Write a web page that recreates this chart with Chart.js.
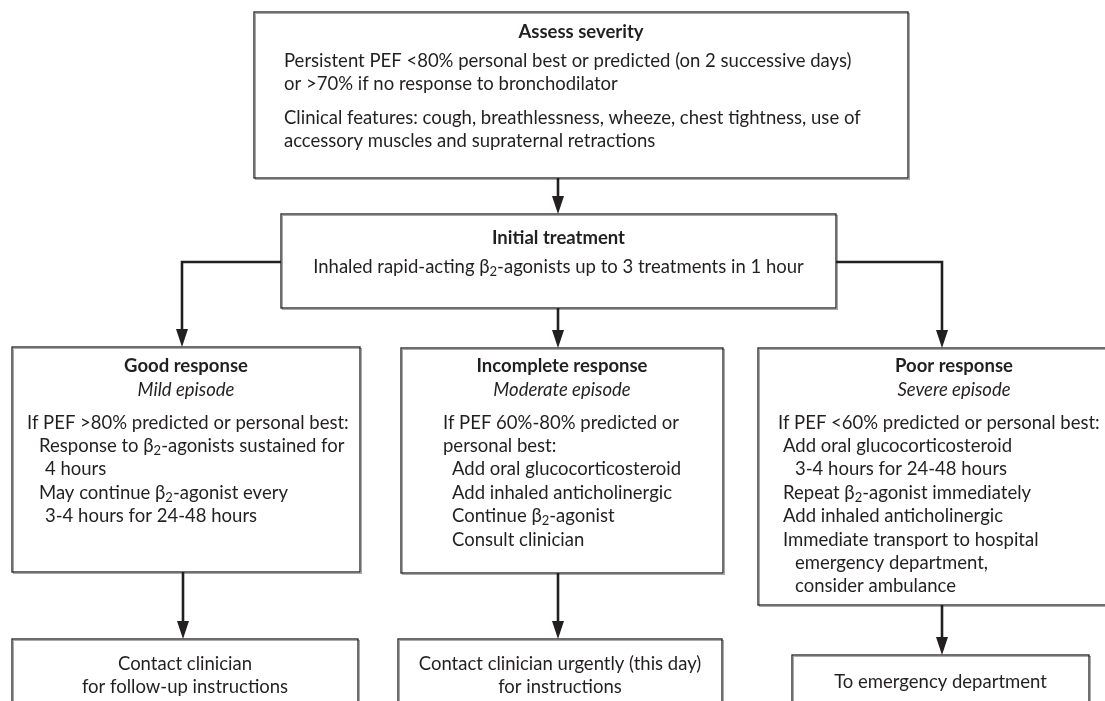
<!DOCTYPE html>
<html>
<head>
<meta charset="utf-8">
<script src="https://cdn.jsdelivr.net/npm/chart.js@4"></script>
<style>
  body { margin: 0; background: #fff; }
  #wrap { width: 1105px; height: 701px; }
</style>
</head>
<body>
<div id="wrap"><canvas id="flow" width="1105" height="701"></canvas></div>
<script>
// text of each step in the flow (β₂ is drawn with a real subscript)
let titles = ['Assess severity', 'Initial treatment', 'Good response', 'Incomplete response', 'Poor response',
    '', '', ''];
let subtitles = ['', '', 'Mild episode', 'Moderate episode', 'Severe episode', '', '', ''];
// body lines: [indent level, text]
let bodies = [
    [[0, 'Persistent PEF <80% personal best or predicted (on 2 successive days)'],
     [0, 'or >70% if no response to bronchodilator'],
     [0, 'Clinical features: cough, breathlessness, wheeze, chest tightness, use of'],
     [0, 'accessory muscles and supraternal retractions']],
    [[0, 'Inhaled rapid-acting β₂-agonists up to 3 treatments in 1 hour']],
    [[0, 'If PEF >80% predicted or personal best:'],
     [1, 'Response to β₂-agonists sustained for'],
     [2, '4 hours'],
     [1, 'May continue β₂-agonist every'],
     [2, '3-4 hours for 24-48 hours']],
    [[0, 'If PEF 60%-80% predicted or'],
     [0, 'personal best:'],
     [1, 'Add oral glucocorticosteroid'],
     [1, 'Add inhaled anticholinergic'],
     [1, 'Continue β₂-agonist'],
     [1, 'Consult clinician']],
    [[0, 'If PEF <60% predicted or personal best:'],
     [1, 'Add oral glucocorticosteroid'],
     [2, '3-4 hours for 24-48 hours'],
     [1, 'Repeat β₂-agonist immediately'],
     [1, 'Add inhaled anticholinergic'],
     [1, 'Immediate transport to hospital'],
     [2, 'emergency department,'],
     [2, 'consider ambulance']],
    [[0, 'Contact clinician'], [0, 'for follow-up instructions']],
    [[0, 'Contact clinician urgently (this day)'], [0, 'for instructions']],
    [[0, 'To emergency department']]
];

// layout (chart units = pixels of the 1105x701 frame)
let boxes = [
    {x0: 254, x1: 908, y0: 12, y1: 178, align: 'left', textX: 284, indent: [0], titleY: 32, lineY: [61, 84, 118, 141]},
    {x0: 281, x1: 836, y0: 214, y1: 308, align: 'center', titleY: 238, lineY: [267]},
    {x0: 12, x1: 360, y0: 347, y1: 572, align: 'left', textX: 27, indent: [0, 12, 18], titleY: 366, subY: 390, lineY: [423, 446, 469, 493, 516]},
    {x0: 401, x1: 723, y0: 348, y1: 573, align: 'left', textX: 443, indent: [0, 9], titleY: 366, subY: 390, lineY: [423, 446, 469, 493, 516, 540]},
    {x0: 758, x1: 1150, y0: 348, y1: 605, align: 'left', textX: 778, indent: [0, 5, 17], titleY: 366, subY: 390, lineY: [423, 446, 469, 493, 516, 540, 563, 586]},
    {x0: 12, x1: 358, y0: 639, y1: 720, align: 'center', lineY: [664, 687]},
    {x0: 398, x1: 722, y0: 639, y1: 720, align: 'center', lineY: [664, 687]},
    {x0: 792, x1: 1089, y0: 655, y1: 720, align: 'center', lineY: [682]}
];
// connectors: polylines, arrowhead at the last point
let links = [
    [[558, 178], [558, 214]],
    [[281, 262], [182, 262], [182, 347]],
    [[836, 262], [942, 262], [942, 348]],
    [[558, 308], [558, 348]],
    [[183, 572], [183, 639]],
    [[558, 573], [558, 639]],
    [[942, 605], [942, 655]]
];

const FONT = 'Lato, "Open Sans", sans-serif';
const SIZE = 18.5;
const INK = '#231f20';

function richWidth(ctx, text, size) {
    let w = 0;
    let parts = text.split('₂');
    ctx.font = size + 'px ' + FONT;
    parts.forEach(part => { w += ctx.measureText(part).width; });
    ctx.font = Math.round(size * 0.72) + 'px ' + FONT;
    w += (parts.length - 1) * ctx.measureText('2').width;
    return w;
}

function drawRich(ctx, text, x, y, size, align) {
    let w = richWidth(ctx, text, size);
    let cx = align === 'center' ? x - w / 2 : x;
    let parts = text.split('₂');
    ctx.textAlign = 'left';
    ctx.textBaseline = 'middle';
    parts.forEach((part, i) => {
        if (i > 0) {
            ctx.font = Math.round(size * 0.72) + 'px ' + FONT;
            ctx.fillText('2', cx, y + 5);
            cx += ctx.measureText('2').width;
        }
        ctx.font = size + 'px ' + FONT;
        ctx.fillText(part, cx, y);
        cx += ctx.measureText(part).width;
    });
}

const flowPlugin = {
    id: 'flow',
    afterDatasetsDraw(chart) {
        const ctx = chart.ctx;
        const sx = chart.scales.x, sy = chart.scales.y;
        const px = v => sx.getPixelForValue(v);
        const py = v => sy.getPixelForValue(v);
        ctx.save();

        // boxes
        boxes.forEach((b, i) => {
            const x0 = px(b.x0), x1 = px(b.x1), y0 = py(b.y0), y1 = py(b.y1);
            ctx.fillStyle = '#fff';
            ctx.fillRect(x0, y0, x1 - x0, y1 - y0);
            ctx.strokeStyle = '#a8a8a8';
            ctx.lineWidth = 1;
            ctx.strokeRect(x0 + 1.5, y0 + 1.5, x1 - x0, y1 - y0);
            ctx.strokeStyle = INK;
            ctx.lineWidth = 1.3;
            ctx.strokeRect(x0, y0, x1 - x0, y1 - y0);

            ctx.fillStyle = INK;
            const cx = (x0 + x1) / 2;
            ctx.textAlign = 'center';
            ctx.textBaseline = 'middle';
            if (titles[i]) {
                ctx.font = 'bold ' + SIZE + 'px ' + FONT;
                ctx.fillText(titles[i], cx, py(b.titleY));
            }
            if (subtitles[i]) {
                ctx.font = 'italic ' + SIZE + 'px ' + FONT;
                ctx.fillText(subtitles[i], cx, py(b.subY));
            }
            bodies[i].forEach((ln, j) => {
                const y = py(b.lineY[j]);
                if (b.align === 'center') {
                    drawRich(ctx, ln[1], cx, y, SIZE, 'center');
                } else {
                    drawRich(ctx, ln[1], px(b.textX + b.indent[ln[0]]), y, SIZE, 'left');
                }
            });
        });

        // connectors with arrowheads
        ctx.strokeStyle = INK;
        ctx.fillStyle = INK;
        ctx.lineWidth = 2.6;
        links.forEach(pts => {
            ctx.beginPath();
            pts.forEach((p, k) => {
                const X = px(p[0]), Y = py(p[1]);
                const endY = k === pts.length - 1 ? Y - 12 : Y;
                if (k === 0) ctx.moveTo(X, Y); else ctx.lineTo(X, endY);
            });
            ctx.stroke();
            const last = pts[pts.length - 1];
            const X = px(last[0]), Y = py(last[1]);
            ctx.beginPath();
            ctx.moveTo(X, Y);
            ctx.lineTo(X - 6, Y - 18);
            ctx.lineTo(X + 6, Y - 18);
            ctx.closePath();
            ctx.fill();
        });
        ctx.restore();
    }
};

let myFlow = document.getElementById('flow').getContext('2d');
let flowChart = new Chart(myFlow, {
    type: 'scatter',
    data: { datasets: [{ data: [] }] },
    options: {
        responsive: false,
        animation: false,
        layout: { padding: 0 },
        plugins: { legend: { display: false }, tooltip: { enabled: false } },
        scales: {
            x: { type: 'linear', min: 0, max: 1105, display: false },
            y: { type: 'linear', min: 0, max: 701, reverse: true, display: false }
        }
    },
    plugins: [flowPlugin]
});
</script>
</body>
</html>
